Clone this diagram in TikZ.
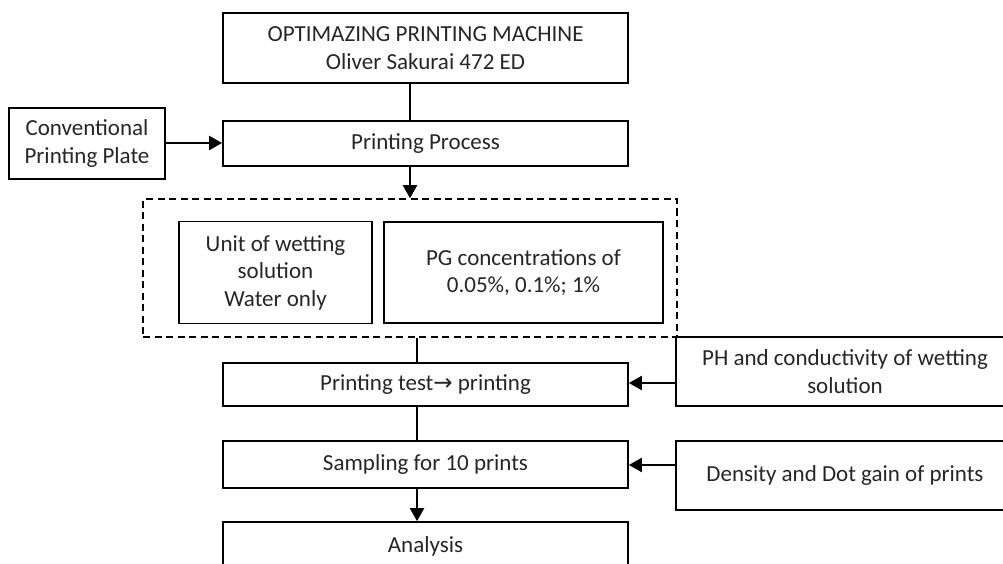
\documentclass[tikz,border=0pt]{standalone}
\usepackage{fontspec}
\setmainfont{Carlito}
\newfontfamily\symfont{DejaVu Sans}
\usetikzlibrary{arrows.meta}
\begin{document}
\begin{tikzpicture}[x=1pt,y=-1pt,
  box/.style={draw=black,line width=1.7pt,align=center,inner sep=0pt,
    text=black!85,font=\fontsize{23}{27.5}\selectfont},
  grpbox/.style={draw=black,line width=1.5pt,dash pattern=on 7pt off 4.5pt,inner sep=0pt},
  link/.style={line width=2pt},
  arr/.style={line width=2.2pt,-{Triangle[length=13pt,width=14pt]}}]
\useasboundingbox (0,0) rectangle (1003,564);
\clip (0,0) rectangle (1003,564);
\coordinate (cxa) at (410,0);
\coordinate (cxb) at (417,0);
\coordinate (cya) at (0,383);
\coordinate (cyb) at (0,465);
\coordinate (cyc) at (0,143);

\node[box,minimum width=405pt,minimum height=70pt] (top) at (425.5,48)
  {OPTIMAZING PRINTING MACHINE\\Oliver Sakurai 472 ED};
\node[box,minimum width=405pt,minimum height=45pt] (pp) at (425.5,143.5) {Printing Process};
\node[box,minimum width=156pt,minimum height=71pt] (conv) at (87,143.5)
  {Conventional\\Printing Plate};
\node[grpbox,minimum width=534pt,minimum height=138pt] (grp) at (410,268) {};
\node[box,minimum width=193pt,minimum height=102pt] (unit) at (275.5,272.5)
  {Unit of wetting\\solution\\Water only};
\node[box,minimum width=279pt,minimum height=101pt] (pg) at (523.5,272.5)
  {PG concentrations of\\0.05\%, 0.1\%; 1\%};
\node[box,minimum width=405pt,minimum height=43pt] (test) at (425.5,384.5)
  {Printing test{\symfont →} printing};
\node[box,minimum width=338pt,minimum height=69pt] (ph) at (845,371.5)
  {PH and conductivity of wetting\\solution};
\node[box,minimum width=405pt,minimum height=47pt] (samp) at (425.5,464.5)
  {Sampling for 10 prints};
\node[box,minimum width=338pt,minimum height=69pt] (dens) at (845,475.5)
  {Density and Dot gain of prints};
\node[box,minimum width=405pt,minimum height=48pt] (anal) at (425.5,546)
  {Analysis};

\draw[link] (top.south -| cxa) -- (pp.north -| cxa);
\draw[arr] (conv.east |- cyc) -- (pp.west |- cyc);
\draw[arr] (pp.south -| cxa) -- (grp.north -| cxa);
\draw[link] (grp.south -| cxb) -- (test.north -| cxb);
\draw[arr] (ph.west |- cya) -- (test.east |- cya);
\draw[link] (test.south -| cxb) -- (samp.north -| cxb);
\draw[arr] (dens.west |- cyb) -- (samp.east |- cyb);
\draw[arr] (samp.south -| cxb) -- (anal.north -| cxb);
\end{tikzpicture}
\end{document}
